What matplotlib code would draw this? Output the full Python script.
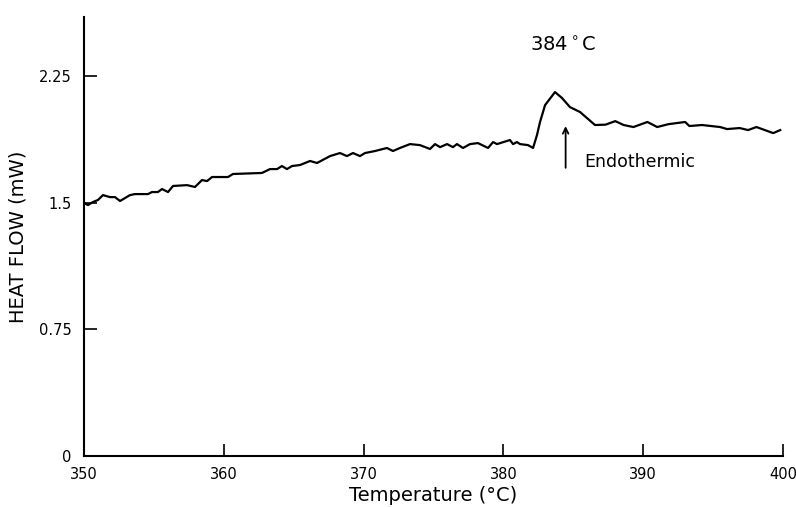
import matplotlib.pyplot as plt

# DSC trace
temperature = [350.0, 350.29, 350.64, 351.0, 351.36, 351.86, 352.22, 352.58, 353.29, 353.65,
               354.58, 354.86, 355.29, 355.58, 356.01, 356.37, 357.37, 357.94, 358.44, 358.8,
               359.16, 360.3, 360.66, 362.73, 363.3, 363.81, 364.16, 364.52, 364.88, 365.45,
               366.17, 366.67, 367.6, 368.31, 368.81, 369.24, 369.74, 370.1, 370.82, 371.67,
               372.1, 372.6, 373.32, 374.03, 374.75, 375.11, 375.47, 375.97, 376.39, 376.68,
               377.11, 377.61, 378.18, 378.9, 379.26, 379.54, 380.47, 380.69, 380.97, 381.19,
               381.76, 382.12, 382.4, 382.62, 382.98, 383.69, 384.19, 384.76, 385.48, 386.55,
               387.3, 388.0, 388.6, 389.3, 390.3, 391.0, 391.8, 393.0, 393.3, 394.2,
               395.5, 396.0, 396.9, 397.5, 398.1, 398.7, 399.3, 399.8]
heat_flow = [1.498, 1.486, 1.504, 1.516, 1.545, 1.533, 1.533, 1.51, 1.545, 1.551,
             1.551, 1.563, 1.563, 1.581, 1.563, 1.599, 1.604, 1.593, 1.634, 1.628,
             1.652, 1.652, 1.67, 1.676, 1.699, 1.699, 1.717, 1.699, 1.717, 1.723,
             1.747, 1.735, 1.776, 1.794, 1.776, 1.794, 1.776, 1.794, 1.806, 1.824,
             1.806, 1.824, 1.847, 1.841, 1.818, 1.847, 1.829, 1.847, 1.829, 1.847,
             1.824, 1.847, 1.853, 1.824, 1.859, 1.847, 1.871, 1.847, 1.859, 1.847,
             1.841, 1.824, 1.9, 1.978, 2.078, 2.155, 2.12, 2.066, 2.037, 1.96,
             1.962, 1.983, 1.96, 1.948, 1.978, 1.948, 1.965, 1.978, 1.954, 1.96,
             1.948, 1.936, 1.942, 1.93, 1.948, 1.93, 1.912, 1.93]

x_ticks = [350, 360, 370, 380, 390, 400]
y_ticks = [0, 0.75, 1.5, 2.25]
y_ticklabels = ["0", "0.75", "1.5", "2.25"]

plt.rcParams['font.family'] = ['DejaVu Sans']

fig = plt.figure(figsize=(7.96, 5.07), dpi=100)
ax = fig.add_axes([0.1055, 0.1006, 0.8782, 0.866])

ax.plot(temperature, heat_flow, color="black", linewidth=1.6)

ax.set_xlim(350, 400)
ax.set_ylim(0, 2.6)
ax.set_xticks(x_ticks)
ax.set_yticks(y_ticks)
ax.set_yticklabels(y_ticklabels)
ax.tick_params(direction="in", length=9, width=1.2, labelsize=10.5, colors="black")
ax.tick_params(axis="y", pad=9)
ax.tick_params(axis="x", pad=8)

for side in ["top", "right"]:
    ax.spines[side].set_visible(False)
for side in ["left", "bottom"]:
    ax.spines[side].set_linewidth(1.5)

ax.set_xlabel("Temperature (°C)", fontsize=14, labelpad=3)
ax.set_ylabel("HEAT FLOW (mW)", fontsize=14, labelpad=8)

# peak annotation
ax.text(384.3, 2.37, "384$^\\circ$C", fontsize=14, ha="center", va="bottom")
ax.annotate("", xy=(384.45, 1.97), xytext=(384.45, 1.69),
            arrowprops=dict(arrowstyle="->", color="black", lw=1.3))
ax.text(385.8, 1.74, "Endothermic", fontsize=12.5, ha="left", va="center")

fig.savefig("out.png", dpi=100)
